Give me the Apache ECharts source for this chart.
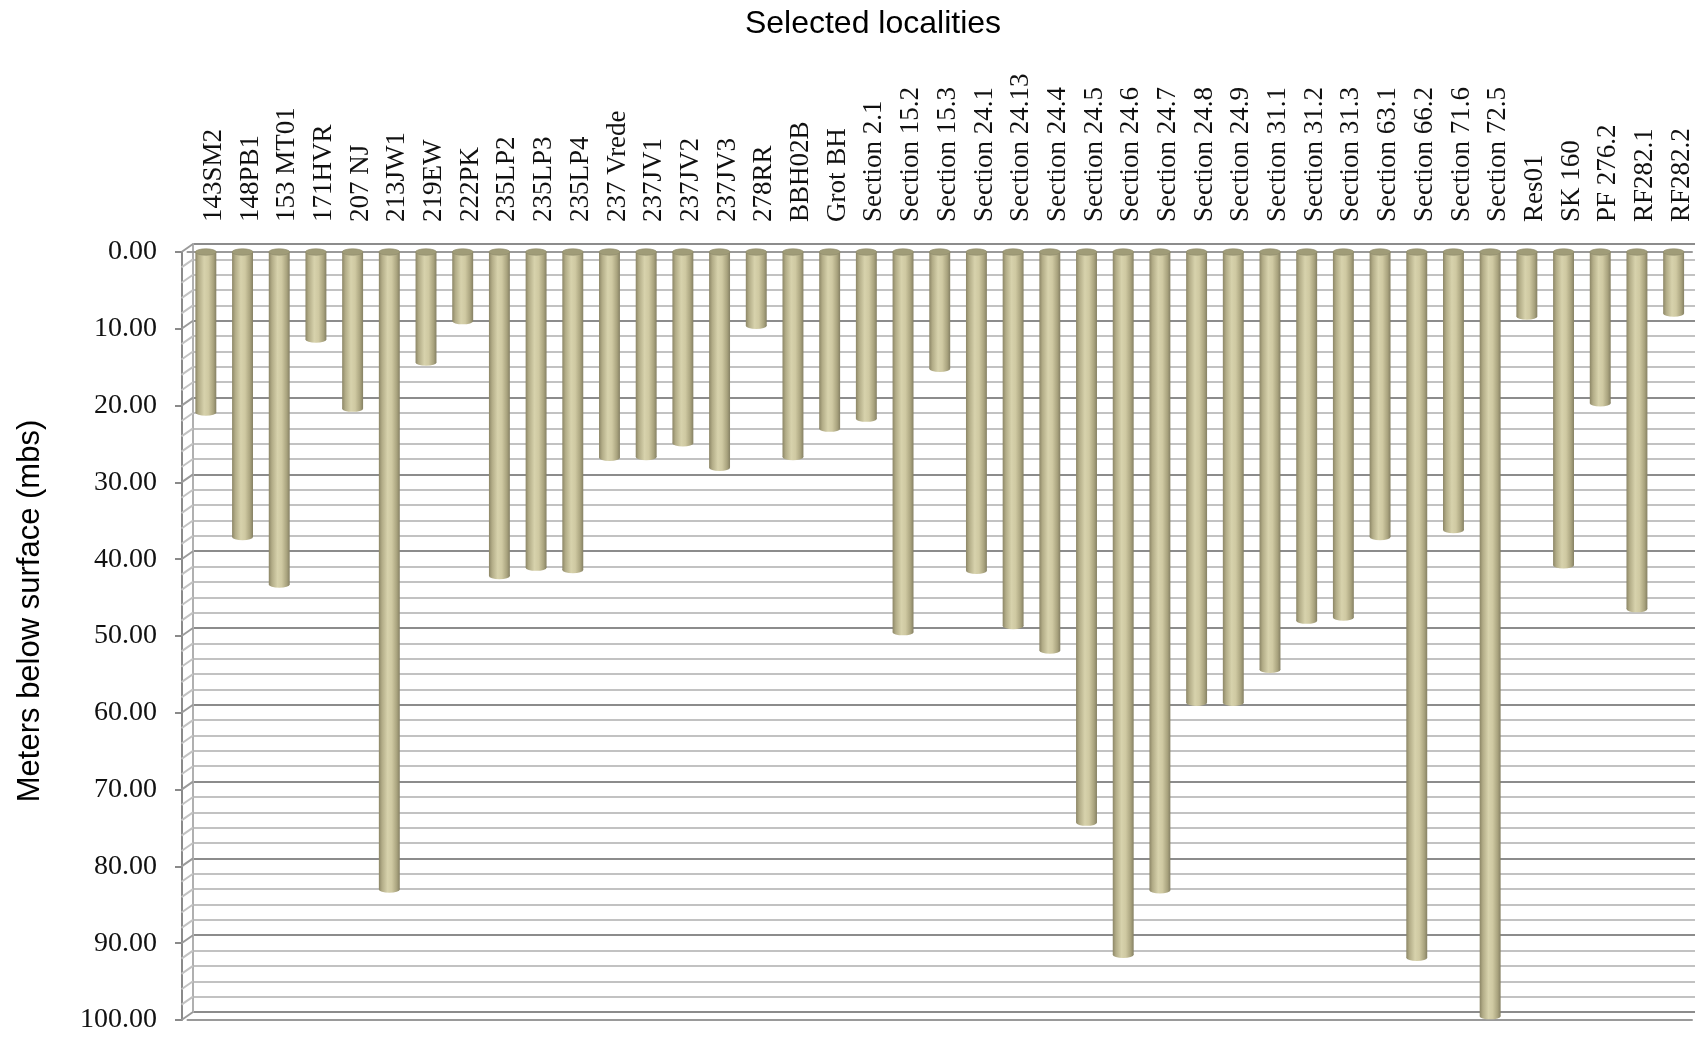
<!DOCTYPE html>
<html>
<head>
<meta charset="utf-8">
<script src="https://cdn.jsdelivr.net/npm/echarts@6/dist/echarts.min.js"></script>
<style>
html,body{margin:0;padding:0;background:#fff;}
#chart{width:1695px;height:1037px;}
</style>
</head>
<body>
<div id="chart"></div>
<script>
const categories = ['143SM2','148PB1','153 MT01','171HVR','207 NJ','213JW1','219EW','222PK','235LP2','235LP3','235LP4','237 Vrede','237JV1','237JV2','237JV3','278RR','BBH02B','Grot BH','Section 2.1','Section 15.2','Section 15.3','Section 24.1','Section 24.13','Section 24.4','Section 24.5','Section 24.6','Section 24.7','Section 24.8','Section 24.9','Section 31.1','Section 31.2','Section 31.3','Section 63.1','Section 66.2','Section 71.6','Section 72.5','Res01','SK 160','PF 276.2','RF282.1','RF282.2'];
const depths = [20.9,37.1,43.3,11.4,20.4,83.0,14.4,9.0,42.2,41.1,41.4,26.8,26.7,24.9,28.1,9.6,26.7,23.0,21.7,49.5,15.2,41.5,48.7,51.9,74.3,91.5,83.1,58.7,58.7,54.4,48.0,47.6,37.1,91.9,36.2,99.5,8.4,40.8,19.7,46.5,8.0];
const yMin = 0, yMax = 100, yInterval = 10, yMinorSplit = 5;

const chart = echarts.init(document.getElementById('chart'));

const bodyGrad = new echarts.graphic.LinearGradient(0,0,1,0,[
  {offset:0,color:'#8c8666'},
  {offset:0.15,color:'#b2ac87'},
  {offset:0.42,color:'#d7d2ac'},
  {offset:0.62,color:'#cfc9a2'},
  {offset:0.86,color:'#a9a37e'},
  {offset:1,color:'#858063'}
]);

function renderCyl(params, api){
  const idx = api.value(0);
  const v = api.value(1);
  const top = api.coord([idx, 0]);
  const bot = api.coord([idx, v]);
  const w = api.size([1,0])[0]*0.57;
  const r = w/2;
  const ry = 3.2;
  return {
    type:'group',
    children:[
      {type:'rect', shape:{x:top[0]-r, y:top[1], width:w, height:bot[1]-top[1]}, style:{fill:bodyGrad}},
      {type:'circle', x:bot[0], y:bot[1], scaleY:ry/r, shape:{cx:0,cy:0,r:r}, style:{fill:bodyGrad}},
      {type:'circle', x:top[0], y:top[1], scaleY:ry/r, shape:{cx:0,cy:0,r:r}, style:{fill:'#a09c78', stroke:'#8e8b6c', lineWidth:1}}
    ]
  };
}

// side wall: diagonal lines joining the front value axis to the back wall grid lines
function renderWall(params, api){
  const children = [];
  const step = yInterval / yMinorSplit;
  for (let v = yMin; v <= yMax + 1e-9; v += step) {
    const back = api.coord([0, v]);
    const major = Math.abs(v / yInterval - Math.round(v / yInterval)) < 1e-6;
    children.push({type:'line', shape:{x1:back[0]-11.5, y1:back[1]+8, x2:back[0], y2:back[1]},
      style:{stroke: major ? '#9a9a9a' : '#c2c2c2', lineWidth:2}});
  }
  return {type:'group', children};
}

const option = {
  backgroundColor:'#fff',
  animation:false,
  title:{
    text:'Selected localities',
    left:868, top:3, textAlign:'center',
    textStyle:{fontFamily:'Liberation Sans', fontSize:32, fontWeight:'normal', color:'#000'}
  },
  grid:[
    {left:187.5, right:-7.5, top:252, bottom:17},
    {left:193, right:0, top:244, bottom:25}
  ],
  xAxis:[
    {type:'category', gridIndex:0, position:'top', data:categories,
     axisLine:{show:true, lineStyle:{color:'#9a9a9a', width:2}},
     axisTick:{show:false},
     axisLabel:{interval:0, rotate:90, margin:30, verticalAlign:'top', lineHeight:16,
                fontFamily:'Liberation Serif', fontSize:27, color:'#111'},
     splitLine:{show:false}},
    {type:'category', gridIndex:0, position:'bottom', data:categories,
     axisLine:{show:true, lineStyle:{color:'#9a9a9a', width:2}},
     axisTick:{show:false}, axisLabel:{show:false}, splitLine:{show:false}},
    {type:'value', gridIndex:1, show:false, min:0, max:1}
  ],
  yAxis:[
    {type:'value', gridIndex:0, inverse:true, min:yMin, max:yMax, interval:yInterval, offset:5.5,
     name:'Meters below surface (mbs)', nameLocation:'middle', nameGap:136, nameRotate:90,
     nameTextStyle:{fontFamily:'Liberation Sans', fontSize:31, color:'#000', padding:[0,0,0,50]},
     axisLine:{show:true, lineStyle:{color:'#8a8a8a', width:2}},
     axisTick:{show:true, length:7, lineStyle:{color:'#8a8a8a', width:2}},
     axisLabel:{margin:25, fontFamily:'Liberation Serif', fontSize:28, color:'#111', formatter:v=>v.toFixed(2)},
     splitLine:{show:false}},
    {type:'value', gridIndex:1, inverse:true, min:yMin, max:yMax, interval:yInterval,
     axisLine:{show:true, lineStyle:{color:'#b0b0b0', width:2}},
     axisTick:{show:false}, axisLabel:{show:false},
     splitLine:{show:true, lineStyle:{color:'#8c8c8c', width:2}},
     minorTick:{show:false, splitNumber:yMinorSplit},
     minorSplitLine:{show:true, lineStyle:{color:'#c2c2c2', width:2}}}
  ],
  series:[
    {type:'custom', name:'wall', xAxisIndex:2, yAxisIndex:1, silent:true,
     renderItem:renderWall, data:[[0,0]], encode:{x:0, y:1}, clip:false, z:1},
    {type:'custom', name:'Depth', xAxisIndex:0, yAxisIndex:0,
     renderItem:renderCyl,
     data:depths.map((d,i)=>[i,d]),
     encode:{x:0, y:1}, clip:false, z:5}
  ]
};
chart.setOption(option);
</script>
</body>
</html>
